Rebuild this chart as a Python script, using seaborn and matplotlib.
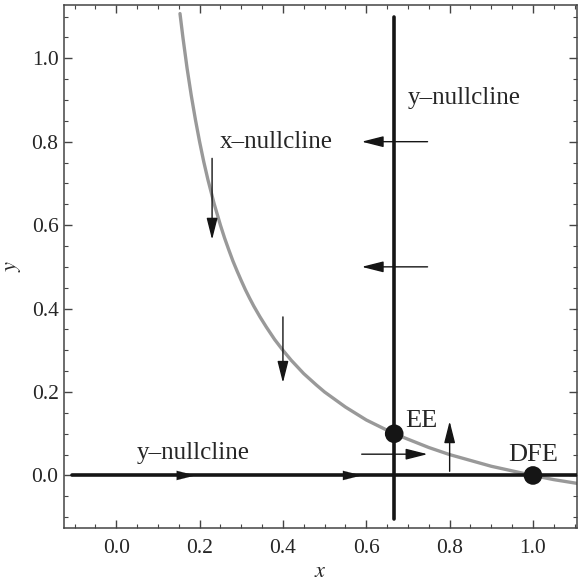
import numpy as np
import pandas as pd
import matplotlib
matplotlib.use("Agg")
import matplotlib.pyplot as plt
from matplotlib.ticker import MultipleLocator
import seaborn as sns

# === data ===
# x-nullcline (gray curve)
curve_x = [0.153, 0.16, 0.17, 0.18, 0.19, 0.20, 0.21, 0.22, 0.235, 0.25, 0.26, 0.27,
           0.28, 0.29, 0.30, 0.31, 0.32, 0.33, 0.345, 0.36, 0.38, 0.40, 0.42, 0.45,
           0.48, 0.50, 0.55, 0.60, 0.667, 0.75, 0.80, 0.90, 1.00, 1.05, 1.106]
curve_y = [1.107, 1.050, 0.976, 0.911, 0.853, 0.800, 0.752, 0.709, 0.651, 0.600,
           0.569, 0.541, 0.514, 0.490, 0.467, 0.445, 0.425, 0.406, 0.380, 0.356,
           0.326, 0.300, 0.276, 0.244, 0.217, 0.200, 0.164, 0.133, 0.100, 0.067,
           0.050, 0.022, 0.000, -0.010, -0.019]

# y-nullclines (black lines)
vline_x = [0.667, 0.667]
vline_y = [-0.105, 1.10]
hline_x = [-0.105, 1.106]
hline_y = [0.0, 0.0]

# equilibria
eq_x = [0.667, 1.0]
eq_y = [0.10, 0.0]
eq_names = ["EE", "DFE"]

# direction arrows: (x_start, y_start, x_end, y_end)
arrows = [
    (0.23, 0.76, 0.23, 0.565),
    (0.40, 0.38, 0.40, 0.222),
    (0.747, 0.80, 0.589, 0.80),
    (0.747, 0.50, 0.589, 0.50),
    (0.589, 0.051, 0.747, 0.051),
    (0.80, 0.01, 0.80, 0.13),
]
# arrowheads sitting on the horizontal nullcline
head_x = [0.19, 0.589]

labels = ["x\u2013nullcline", "y\u2013nullcline", "y\u2013nullcline"]
label_x = [0.249, 0.70, 0.049]
label_y = [0.80, 0.905, 0.055]

# === style ===
sns.set_style("ticks")
plt.rcParams['font.family'] = ['Liberation Serif', 'DejaVu Serif']
plt.rcParams['mathtext.fontset'] = 'stix'

fig = plt.figure(figsize=(5.83, 5.83), dpi=100)
ax = fig.add_axes([0.110, 0.095, 0.880, 0.896])

curve = pd.DataFrame({'x': curve_x, 'y': curve_y})
sns.lineplot(data=curve, x='x', y='y', color='#999999', lw=2.4, sort=False,
             estimator=None, ax=ax, zorder=2)
sns.lineplot(x=vline_x, y=vline_y, color='#151515', lw=2.6, sort=False,
             estimator=None, ax=ax, zorder=3)
sns.lineplot(x=hline_x, y=hline_y, color='#151515', lw=2.6, sort=False,
             estimator=None, ax=ax, zorder=3)

head = '-|>,head_length=0.95,head_width=0.24'
for x0, y0, x1, y1 in arrows:
    ax.annotate("", xy=(x1, y1), xytext=(x0, y0),
                arrowprops=dict(arrowstyle=head, color='#151515', lw=1.0,
                                mutation_scale=14, shrinkA=0, shrinkB=0), zorder=4)
for hx in head_x:
    ax.annotate("", xy=(hx, 0.0), xytext=(hx - 0.05, 0.0),
                arrowprops=dict(arrowstyle=head, color='#151515', lw=0.1,
                                mutation_scale=14, shrinkA=0, shrinkB=0), zorder=4)

sns.scatterplot(x=eq_x, y=eq_y, s=180, color='#151515', edgecolor='none', ax=ax, zorder=5)

ax.text(0.693, 0.13, eq_names[0], fontsize=19, va='center', ha='left')
ax.text(0.94, 0.05, eq_names[1], fontsize=19, va='center', ha='left')
for t, tx, ty in zip(labels, label_x, label_y):
    ax.text(tx, ty, t, fontsize=18, va='center', ha='left')

ax.set_xlim(-0.125, 1.106)
ax.set_ylim(-0.125, 1.127)
ax.xaxis.set_major_locator(MultipleLocator(0.2))
ax.xaxis.set_minor_locator(MultipleLocator(0.05))
ax.yaxis.set_major_locator(MultipleLocator(0.2))
ax.yaxis.set_minor_locator(MultipleLocator(0.05))
ax.tick_params(which='both', direction='in', top=True, right=True,
               color='#444444', labelsize=15.5)
ax.tick_params(which='major', length=6, width=1.0)
ax.tick_params(which='minor', length=3, width=0.8)
ax.tick_params(axis='x', which='major', pad=8)
ax.tick_params(axis='y', which='major', pad=4)
for s in ax.spines.values():
    s.set_color('#444444')
    s.set_linewidth(1.1)

ax.set_xlabel("$x$", fontsize=16, labelpad=4)
ax.set_ylabel("$y$", fontsize=16, labelpad=6)

fig.savefig("out.png", dpi=100)
